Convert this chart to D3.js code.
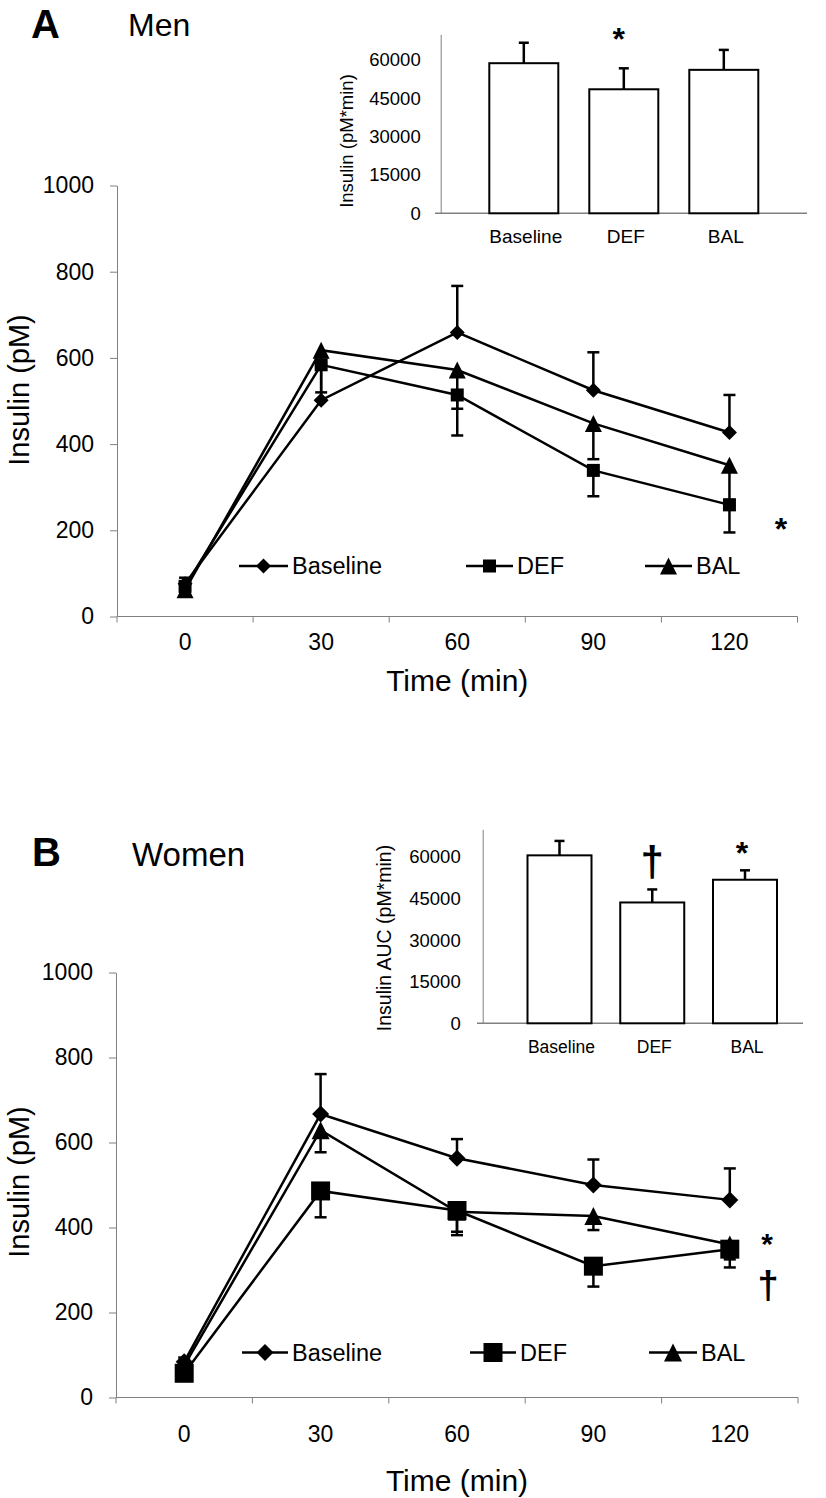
<!DOCTYPE html>
<html>
<head>
<meta charset="utf-8">
<title>Insulin response</title>
<style>
  body { margin: 0; background: #fff; }
  svg { display: block; font-family: "Liberation Sans", Arial, sans-serif; }
</style>
</head>
<body>
<svg width="826" height="1498"></svg>
<script src="https://cdn.jsdelivr.net/npm/d3@7"></script>
<script>
// ---- data ----
const times = ["0", "30", "60", "90", "120"];
const groups = ["Baseline", "DEF", "BAL"];
const yTicks = [0, 200, 400, 600, 800, 1000];
const aucTicks = [0, 15000, 30000, 45000, 60000];

// Men (pM), error bars: Baseline up, DEF / BAL down
const menBaseline = [76, 502, 659, 525, 427];
const menBaselineErr = [14, 80, 108, 88, 87];
const menDEF = [70, 584, 514, 339, 259];
const menDEFErr = [15, 64, 94, 60, 64];
const menBAL = [62, 618, 572, 448, 351];
const menBALErr = [12, 30, 90, 83, 80];

// Women (pM)
const womenBaseline = [84, 667, 563, 500, 465];
const womenBaselineErr = [10, 94, 45, 60, 74];
const womenDEF = [57, 486, 440, 309, 349];
const womenDEFErr = [10, 62, 58, 48, 43];
const womenBAL = [75, 629, 437, 427, 360];
const womenBALErr = [10, 52, 47, 33, 35];

// AUC (pM*min)
const menAUC = [58700, 48500, 56100];
const menAUCErr = [8000, 8200, 7800];
const womenAUC = [60600, 43600, 51800];
const womenAUCErr = [5200, 4700, 3400];

const svg = d3.select("svg");
const FONT = '"Liberation Sans", Arial, sans-serif';
const fmt = d3.format("d");

// Excel-like marker shapes, size = width in px
const markerDiamond = { draw(c, s) { const h = s / 2; c.moveTo(0, -h); c.lineTo(h, 0); c.lineTo(0, h); c.lineTo(-h, 0); c.closePath(); } };
const markerSquare = { draw(c, s) { const h = s / 2; c.rect(-h, -h, s, s); } };
const markerTriangle = { draw(c, s) { const h = s / 2; c.moveTo(0, -h); c.lineTo(h, h); c.lineTo(-h, h); c.closePath(); } };

function drawMain(cfg) {
  const g = svg.append("g");
  const y = d3.scaleLinear().domain([0, 1000]).range([cfg.bottom, cfg.top]);
  const x = d3.scaleBand().domain(times).range([cfg.left, cfg.right]);
  const cx = d => x(d) + x.bandwidth() / 2;

  // y axis
  const ya = g.append("g")
    .attr("transform", `translate(${cfg.left},0)`)
    .call(d3.axisLeft(y).tickValues(yTicks).tickFormat(fmt).tickSize(7).tickSizeOuter(0).tickPadding(16));
  ya.select(".domain").attr("stroke", "#808080");
  ya.selectAll(".tick line").attr("stroke", "#808080");
  ya.selectAll("text").attr("font-size", 23).attr("font-family", FONT).attr("fill", "#000");

  // x axis (category style: ticks between categories)
  g.append("line")
    .attr("x1", cfg.left).attr("x2", cfg.right)
    .attr("y1", y(0)).attr("y2", y(0))
    .attr("stroke", "#808080");
  const bounds = times.map(d => x(d)).concat([x.range()[1]]);
  g.selectAll(".xtick").data(bounds).join("line")
    .attr("x1", d => d).attr("x2", d => d)
    .attr("y1", y(0)).attr("y2", y(0) + 6)
    .attr("stroke", "#808080");
  g.selectAll(".xlab").data(times).join("text")
    .attr("x", cx).attr("y", cfg.xLabY)
    .attr("text-anchor", "middle").attr("font-size", 23)
    .text(d => d);

  g.append("text")
    .attr("x", (cfg.left + cfg.right) / 2).attr("y", cfg.timeY)
    .attr("text-anchor", "middle").attr("font-size", 30)
    .text("Time (min)");
  g.append("text")
    .attr("transform", `translate(${cfg.yLabX},${cfg.yLabY}) rotate(-90)`)
    .attr("text-anchor", "middle").attr("font-size", 29)
    .text("Insulin (pM)");

  const line = d3.line().x((d, i) => cx(times[i])).y(d => y(d));
  cfg.series.forEach(s => {
    g.append("path").datum(s.values)
      .attr("d", line).attr("fill", "none")
      .attr("stroke", "#000").attr("stroke-width", 2.5);
  });
  // error bars
  cfg.series.forEach(s => {
    const eb = g.append("g").attr("stroke", "#000").attr("stroke-width", 2.5);
    s.values.forEach((v, i) => {
      const end = v + s.dir * s.err[i];
      eb.append("line").attr("x1", cx(times[i])).attr("x2", cx(times[i]))
        .attr("y1", y(v)).attr("y2", y(end));
      eb.append("line").attr("x1", cx(times[i]) - 6).attr("x2", cx(times[i]) + 6)
        .attr("y1", y(end)).attr("y2", y(end));
    });
  });
  // markers
  cfg.series.forEach(s => {
    g.selectAll(null).data(s.values).join("path")
      .attr("transform", (d, i) => `translate(${cx(times[i])},${y(d)})`)
      .attr("d", d3.symbol().type(s.shape).size(s.size))
      .attr("fill", "#000");
  });

  // legend
  cfg.series.forEach((s, i) => {
    const L = cfg.legend[i];
    g.append("line").attr("x1", L[0]).attr("x2", L[1])
      .attr("y1", cfg.legendY).attr("y2", cfg.legendY)
      .attr("stroke", "#000").attr("stroke-width", 2.5);
    g.append("path")
      .attr("transform", `translate(${(L[0] + L[1]) / 2},${cfg.legendY})`)
      .attr("d", d3.symbol().type(s.shape).size(s.size))
      .attr("fill", "#000");
    g.append("text").attr("x", L[1] + 4).attr("y", cfg.legendY + 8)
      .attr("font-size", 23.5).text(groups[i]);
  });

  cfg.marks.forEach(m => {
    g.append("text").attr("x", m.x).attr("y", m.y)
      .attr("text-anchor", "middle").attr("font-size", m.fs).attr("font-weight", "bold")
      .text(m.t);
  });
}

function drawInset(cfg) {
  const g = svg.append("g");
  const y = d3.scaleLinear().domain([0, 70000]).range([cfg.bottom, cfg.top]);
  const x = d3.scalePoint().domain(groups).range(cfg.centers);

  const ya = g.append("g")
    .attr("transform", `translate(${cfg.axisX},0)`)
    .call(d3.axisLeft(y).tickValues(aucTicks).tickFormat(fmt).tickSize(0).tickSizeOuter(0).tickPadding(cfg.gap));
  ya.select(".domain").attr("stroke", "#808080");
  ya.selectAll("text").attr("font-size", 18.5).attr("font-family", FONT).attr("fill", "#000");

  g.append("line")
    .attr("x1", cfg.lineL).attr("x2", cfg.lineR)
    .attr("y1", y(0)).attr("y2", y(0))
    .attr("stroke", "#808080").attr("stroke-width", 1.5);

  g.selectAll(".bar").data(cfg.values).join("rect")
    .attr("x", (d, i) => x(groups[i]) - cfg.barW / 2)
    .attr("y", d => y(d))
    .attr("width", cfg.barW)
    .attr("height", d => y(0) - y(d))
    .attr("fill", "#fff").attr("stroke", "#000").attr("stroke-width", 2);

  const eb = g.append("g").attr("stroke", "#000").attr("stroke-width", 2.5);
  cfg.values.forEach((v, i) => {
    const xc = x(groups[i]);
    eb.append("line").attr("x1", xc).attr("x2", xc).attr("y1", y(v)).attr("y2", y(v + cfg.err[i]));
    eb.append("line").attr("x1", xc - 5).attr("x2", xc + 5)
      .attr("y1", y(v + cfg.err[i])).attr("y2", y(v + cfg.err[i]));
  });

  g.selectAll(".xl").data(groups).join("text")
    .attr("x", d => x(d) + 2).attr("y", cfg.xLabY)
    .attr("text-anchor", "middle").attr("font-size", cfg.xFs)
    .text(d => d);

  g.append("text")
    .attr("transform", `translate(${cfg.yLabX},${cfg.yLabY}) rotate(-90)`)
    .attr("text-anchor", "middle").attr("font-size", cfg.yFs)
    .text(cfg.yLabel);

  cfg.marks.forEach(m => {
    g.append("text").attr("x", x(groups[m.i]) + m.dx).attr("y", m.y)
      .attr("text-anchor", "middle").attr("font-size", m.fs).attr("font-weight", "bold")
      .text(m.t);
  });
}

// titles
svg.append("text").attr("x", 31).attr("y", 38).attr("font-size", 40).attr("font-weight", "bold").text("A");
svg.append("text").attr("x", 128).attr("y", 36).attr("font-size", 32).text("Men");
svg.append("text").attr("x", 32).attr("y", 866).attr("font-size", 40).attr("font-weight", "bold").text("B");
svg.append("text").attr("x", 132).attr("y", 866).attr("font-size", 33).text("Women");

drawMain({
  top: 185.5, bottom: 616.5, left: 117, right: 797.5,
  xLabY: 650, timeY: 691, yLabX: 29, yLabY: 390,
  legendY: 566, legend: [[239, 288], [466, 513], [645, 692]],
  series: [
    { values: menBaseline, err: menBaselineErr, dir: 1, shape: markerDiamond, size: 15 },
    { values: menDEF, err: menDEFErr, dir: -1, shape: markerSquare, size: 13 },
    { values: menBAL, err: menBALErr, dir: -1, shape: markerTriangle, size: 17 }
  ],
  marks: [{ t: "*", x: 781, y: 540, fs: 32 }]
});

drawMain({
  top: 972.5, bottom: 1397.5, left: 116, right: 798,
  xLabY: 1442, timeY: 1491, yLabX: 29, yLabY: 1182,
  legendY: 1352.5, legend: [[242, 288], [470, 516], [649, 697]],
  series: [
    { values: womenBaseline, err: womenBaselineErr, dir: 1, shape: markerDiamond, size: 17 },
    { values: womenDEF, err: womenDEFErr, dir: -1, shape: markerSquare, size: 19 },
    { values: womenBAL, err: womenBALErr, dir: -1, shape: markerTriangle, size: 18 }
  ],
  marks: [{ t: "*", x: 767, y: 1254, fs: 30 }, { t: "†", x: 768, y: 1298, fs: 38 }]
});

drawInset({
  axisX: 440.7, top: 34.3, bottom: 213.3, lineL: 435, lineR: 807,
  centers: [523.8, 723.8], barW: 69, values: menAUC, err: menAUCErr,
  gap: 20, xLabY: 243, xFs: 19,
  yLabel: "Insulin (pM*min)", yLabX: 353, yLabY: 141, yFs: 18.5,
  marks: [{ t: "*", i: 1, dx: -5, y: 50, fs: 32 }]
});

drawInset({
  axisX: 482.7, top: 829.3, bottom: 1023.3, lineL: 477, lineR: 803,
  centers: [559.5, 745], barW: 64, values: womenAUC, err: womenAUCErr,
  gap: 22, xLabY: 1053, xFs: 17.5,
  yLabel: "Insulin AUC (pM*min)", yLabX: 391, yLabY: 938, yFs: 19.5,
  marks: [{ t: "†", i: 1, dx: 0, y: 876, fs: 42 }, { t: "*", i: 2, dx: -3, y: 864, fs: 32 }]
});
</script>
</body>
</html>
